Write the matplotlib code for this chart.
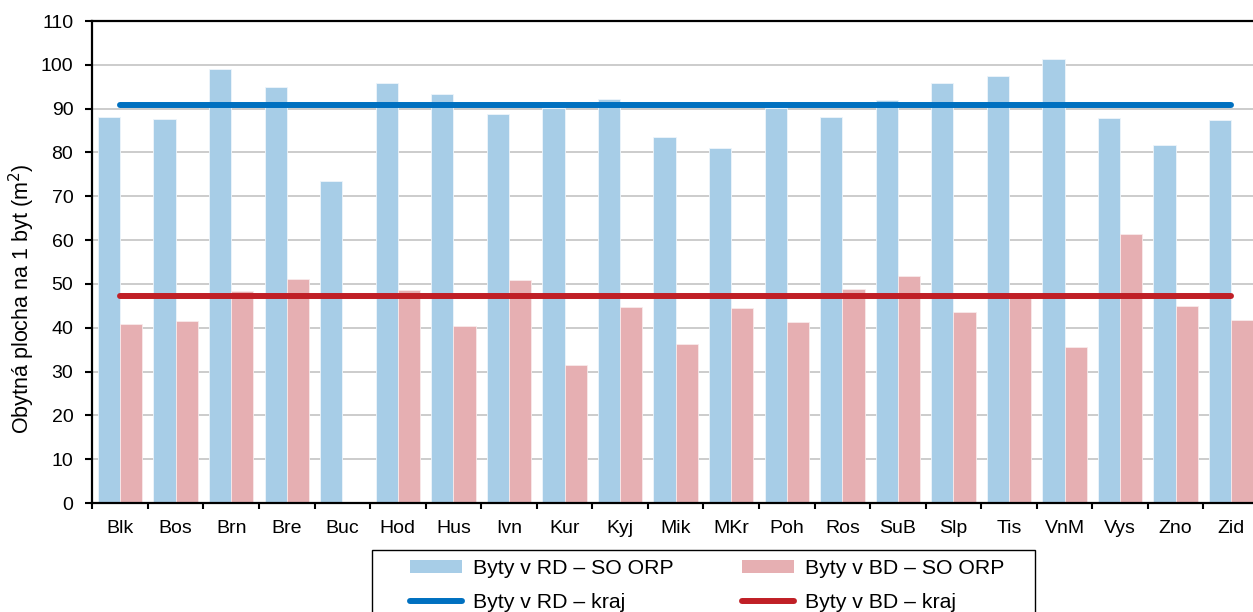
import matplotlib
matplotlib.use("Agg")
import matplotlib.pyplot as plt
import numpy as np
from matplotlib.patches import Patch, Rectangle
from matplotlib.lines import Line2D

plt.rcParams['font.family'] = ['Liberation Sans', 'DejaVu Sans']

categories = ["Blk", "Bos", "Brn", "Bre", "Buc", "Hod", "Hus", "Ivn", "Kur", "Kyj", "Mik",
              "MKr", "Poh", "Ros", "SuB", "Slp", "Tis", "VnM", "Vys", "Zno", "Zid"]
rd_orp = [88.2, 87.7, 99.1, 95.0, 73.4, 95.9, 93.4, 88.7, 90.1, 92.2, 83.5,
          81.0, 90.1, 88.2, 91.9, 95.9, 97.4, 101.3, 87.9, 81.8, 87.5]
bd_orp = [40.8, 41.5, 48.4, 51.2, 0.0, 48.6, 40.5, 50.9, 31.4, 44.8, 36.4,
          44.5, 41.2, 48.9, 51.9, 43.5, 47.5, 35.5, 61.4, 44.9, 41.7]
rd_kraj = 90.8
bd_kraj = 47.3
yticks = list(range(0, 111, 10))

c_rd_bar = "#a7cde7"
c_bd_bar = "#e6afb2"
c_rd_line = "#0070c0"
c_bd_line = "#c01f26"

W, H = 1253, 612
fig = plt.figure(figsize=(W / 100, H / 100), dpi=100)
ax = fig.add_axes([92.3 / W, 1 - 503 / H, (1259 - 92.3) / W, (503 - 21) / H])

x = np.arange(len(categories))
w = 0.4
ax.bar(x - w / 2, rd_orp, width=w, color=c_rd_bar, edgecolor="#eef5fb", linewidth=0.6, zorder=2)
ax.bar(x + w / 2, bd_orp, width=w, color=c_bd_bar, edgecolor="#f8eaeb", linewidth=0.6, zorder=2)
ax.plot(x, [rd_kraj] * len(x), color=c_rd_line, lw=4.3, solid_capstyle="round", zorder=3)
ax.plot(x, [bd_kraj] * len(x), color=c_bd_line, lw=4.3, solid_capstyle="round", zorder=3)

ax.set_xlim(-0.5, len(categories) - 0.5)
ax.set_ylim(0, 110)
ax.set_yticks(yticks)
ax.set_yticklabels([str(t) for t in yticks], fontsize=14)
ax.set_xticks(x)
ax.set_xticklabels(categories, fontsize=14)
ax.set_xticks(np.arange(-0.5, len(categories)), minor=True)
ax.tick_params(axis="x", which="major", length=0, pad=12.5)
ax.tick_params(axis="x", which="minor", length=4, width=1.5, direction="out")
ax.tick_params(axis="y", which="major", length=4.7, width=1.5, direction="out", pad=9)

ax.yaxis.grid(True, color="#c8c8c8", linewidth=1.3, zorder=0)
ax.set_axisbelow(True)
for s in ["left", "bottom", "top", "right"]:
    ax.spines[s].set_linewidth(1.6)
    ax.spines[s].set_color("black")

fig.text(21.7 / W, 1 - 299 / H, "Obytná plocha na 1 byt (m$^2$)", fontsize=15.5,
         rotation=90, ha="center", va="center")

# legend frame drawn manually (box partly cut off at the bottom of the figure)
fig.patches.append(Rectangle((371.5 / W, -0.01), (1035 - 371.5) / W, 1 - 550 / H + 0.01,
                             transform=fig.transFigure, facecolor="white",
                             edgecolor="black", linewidth=1.0, zorder=1))

handles = [
    Patch(facecolor=c_rd_bar, edgecolor="none"),
    Line2D([0], [0], color=c_rd_line, lw=4.3, solid_capstyle="round"),
    Patch(facecolor=c_bd_bar, edgecolor="none"),
    Line2D([0], [0], color=c_bd_line, lw=4.3, solid_capstyle="round"),
]
labels = ["Byty v RD – SO ORP", "Byty v RD – kraj", "Byty v BD – SO ORP", "Byty v BD – kraj"]
leg = fig.legend(handles, labels, ncol=2, loc="upper left",
                 bbox_to_anchor=(410 / W, 1 - 559 / H), bbox_transform=fig.transFigure,
                 fontsize=15.3, frameon=False,
                 handlelength=2.45, handleheight=0.55, handletextpad=0.52, columnspacing=3.2,
                 labelspacing=0.72, borderpad=0.0, borderaxespad=0)
leg.set_zorder(2)

fig.savefig("out.png", dpi=100)
